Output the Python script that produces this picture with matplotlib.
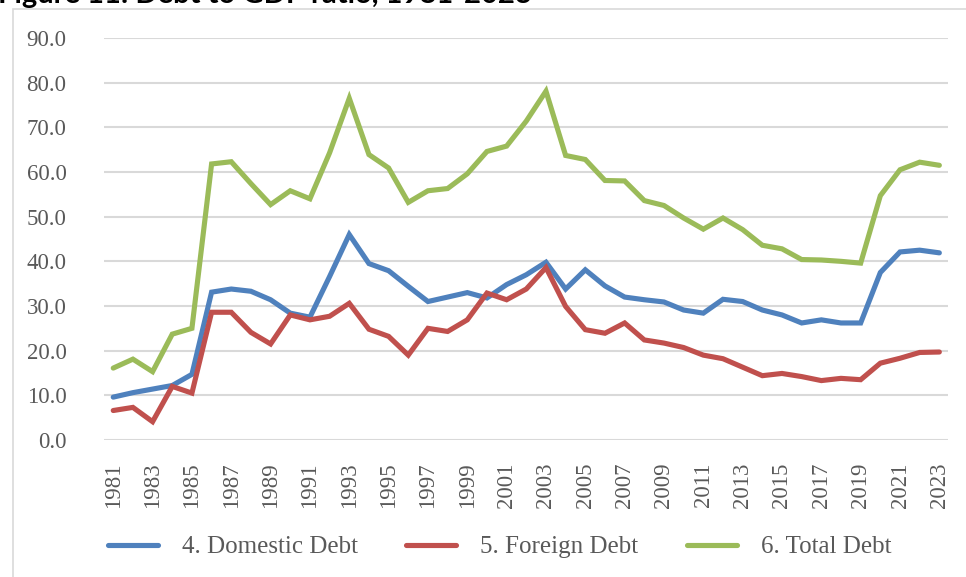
import matplotlib
matplotlib.use("Agg")
import matplotlib.pyplot as plt
from matplotlib.patches import Rectangle

years = list(range(1981, 2024))

# Debt to GDP (%)
domestic = [9.6, 10.6, 11.4, 12.2, 14.7, 33.1, 33.8, 33.3, 31.4, 28.4,
            27.5, 36.6, 46.0, 39.5, 37.9, 34.4, 31.0, 32.0, 33.0, 31.8,
            34.8, 37.0, 39.8, 33.8, 38.1, 34.5, 32.0, 31.4, 30.9, 29.1,
            28.4, 31.5, 31.0, 29.1, 28.0, 26.2, 26.9, 26.2, 26.2, 37.5,
            42.1, 42.5, 41.9]
foreign = [6.6, 7.3, 4.1, 12.0, 10.5, 28.6, 28.6, 24.1, 21.5, 28.0,
           26.9, 27.7, 30.6, 24.8, 23.2, 19.0, 25.0, 24.3, 26.9, 32.9,
           31.4, 33.8, 38.6, 29.9, 24.7, 23.9, 26.2, 22.4, 21.7, 20.7,
           19.0, 18.2, 16.3, 14.4, 14.9, 14.2, 13.3, 13.8, 13.5, 17.2,
           18.3, 19.6, 19.7]
total = [16.1, 18.1, 15.3, 23.7, 25.0, 61.8, 62.3, 57.4, 52.7, 55.8,
         54.0, 64.3, 76.5, 63.9, 60.9, 53.2, 55.8, 56.3, 59.6, 64.6,
         65.8, 71.4, 78.1, 63.7, 62.8, 58.1, 58.0, 53.6, 52.5, 49.7,
         47.2, 49.7, 47.1, 43.6, 42.8, 40.4, 40.3, 40.0, 39.6, 54.7,
         60.5, 62.2, 61.5]

series = [("4. Domestic Debt", domestic, "#4f81bd"),
          ("5. Foreign Debt", foreign, "#c0504d"),
          ("6. Total Debt", total, "#9bbb59")]

W, H = 966, 577
fig = plt.figure(figsize=(W / 100, H / 100), dpi=100)
ax = fig.add_axes([104 / W, (H - 440) / H, (948 - 104) / W, (440 - 38) / H])

for name, vals, col in series:
    ax.plot(years, vals, color=col, lw=3.7, label=name, solid_capstyle="round",
            solid_joinstyle="miter")

ax.set_xlim(1980.53, 2023.44)
ax.set_ylim(0, 90)
ax.set_yticks(range(0, 91, 10))
ax.set_yticklabels([f"{v:.1f}" for v in range(0, 91, 10)])
ax.set_xticks(years[::2])
ax.set_xticklabels([str(y) for y in years[::2]], rotation=90)
ax.grid(axis="y", color="#d9d9d9", lw=1.5)
ax.set_axisbelow(True)
for s in ax.spines.values():
    s.set_visible(False)
ax.tick_params(length=0, labelsize=16.5, labelcolor="#595959")
ax.tick_params(axis="y", pad=27)
ax.tick_params(axis="x", pad=16)
for lab in ax.get_xticklabels() + ax.get_yticklabels():
    lab.set_family("Liberation Serif")

fig.legend(loc="center", bbox_to_anchor=(499.5 / W, (H - 547) / H), ncol=3,
           frameon=False, prop={"family": "Liberation Serif", "size": 18},
           labelcolor="#595959", handlelength=2.0, handletextpad=0.95,
           columnspacing=1.95)

# chart frame and cut-off caption above it
fig.add_artist(Rectangle((13 / W, -0.1), 1.1, (H - 9) / H + 0.1,
                         transform=fig.transFigure, fill=False,
                         ec="#d9d9d9", lw=1.2))
fig.text(-2 / W, (H - 3) / H, "Figure 11: Debt to GDP ratio, 1981-2023",
         family="Lato", weight="bold", fontsize=21, va="baseline")

fig.savefig("out.png", dpi=100)
